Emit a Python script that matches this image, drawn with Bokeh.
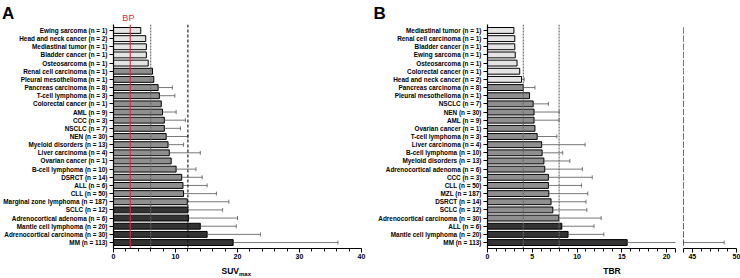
import math
from bokeh.plotting import figure
from bokeh.models import ColumnDataSource, FactorRange, Range1d, Span, Label, FixedTicker
from bokeh.layouts import row, column
from bokeh.embed import file_html
from bokeh.resources import INLINE

# ---------------- Data (listed top to bottom as in the chart) ----------------
cats_a = [
    "Ewing sarcoma (n = 1)", "Head and neck cancer (n = 2)", "Mediastinal tumor (n = 1)",
    "Bladder cancer (n = 1)", "Osteosarcoma (n = 1)", "Renal cell carcinoma (n = 1)",
    "Pleural mesothelioma (n = 1)", "Pancreas carcinoma (n = 8)", "T-cell lymphoma (n = 3)",
    "Colorectal cancer (n = 1)", "AML (n = 9)", "CCC (n = 3)", "NSCLC (n = 7)", "NEN (n = 30)",
    "Myeloid disorders (n = 13)", "Liver carcinoma (n = 4)", "Ovarian cancer (n = 1)",
    "B-cell lymphoma (n = 10)", "DSRCT (n = 14)", "ALL (n = 6)", "CLL (n = 50)",
    "Marginal zone lymphoma (n = 187)", "SCLC (n = 12)", "Adrenocortical adenoma (n = 6)",
    "Mantle cell lymphoma (n = 20)", "Adrenocortical carcinoma (n = 30)", "MM (n = 113)",
]
suv_mean = [4.4, 5.2, 5.3, 5.3, 5.6, 6.3, 6.5, 7.2, 7.4, 7.7, 7.9, 8.2, 8.2, 8.5,
            8.8, 9.0, 9.3, 10.1, 11.0, 11.2, 11.3, 11.9, 12.0, 12.1, 14.0, 15.1, 19.3]
suv_upper = [None, None, None, None, None, None, None, 9.5, 9.9, None, 10.1, 11.6, 10.8, 12.0,
             11.3, 14.0, None, 13.3, 14.3, 15.1, 16.6, 18.6, 17.6, 20.0, 19.8, 23.7, 36.2]
tier_a = ["light", "light", "light", "light", "light",
          "mid", "mid", "mid", "mid", "mid", "mid", "mid", "mid", "mid", "mid", "mid", "mid",
          "mid", "mid", "mid", "mid", "mid",
          "dark", "dark", "dark", "dark", "dark"]

cats_b = [
    "Mediastinal tumor (n = 1)", "Renal cell carcinoma (n = 1)", "Bladder cancer (n = 1)",
    "Ewing sarcoma (n = 1)", "Osteosarcoma (n = 1)", "Colorectal cancer (n = 1)",
    "Head and neck cancer (n = 2)", "Pancreas carcinoma (n = 8)", "Pleural mesothelioma (n = 1)",
    "NSCLC (n = 7)", "NEN (n = 30)", "AML (n = 9)", "Ovarian cancer (n = 1)",
    "T-cell lymphoma (n = 3)", "Liver carcinoma (n = 4)", "B-cell lymphoma (n = 10)",
    "Myeloid disorders (n = 13)", "Adrenocortical adenoma (n = 6)", "CCC (n = 3)",
    "CLL (n = 50)", "MZL (n = 187)", "DSRCT (n = 14)", "SCLC (n = 12)",
    "Adrenocortical carcinoma (n = 30)", "ALL (n = 6)", "Mantle cell lymphoma (n = 20)",
    "MM (n = 113)",
]
tbr_mean = [2.95, 3.05, 3.05, 3.1, 3.3, 3.6, 3.8, 4.0, 4.7, 5.1, 5.2, 5.2, 5.3, 5.55,
            6.05, 6.1, 6.3, 6.4, 6.8, 6.8, 6.85, 7.1, 7.3, 7.95, 8.3, 9.0, 15.6]
tbr_upper = [None, None, None, None, None, None, 4.1, 5.3, None, 6.8, 8.0, 8.0, None, 7.75,
             10.9, 8.4, 9.2, 10.6, 11.7, 10.5, 11.2, 11.0, 11.1, 12.7, 11.9, 13.0, 48.6]
tier_b = ["light", "light", "light", "light", "light", "light", "light",
          "mid", "mid", "mid", "mid", "mid", "mid", "mid", "mid", "mid", "mid", "mid",
          "mid", "mid", "mid", "mid", "mid", "mid",
          "dark", "dark", "dark"]

suv_ticks = [0, 10, 20, 30, 40]
tbr_ticks = [0, 5, 10, 15, 20]
tbr_ticks_hi = [45, 50]
BP = 2.7
suv_thresholds = [6, 12]
tbr_thresholds = [4, 8]

FILL = {"light": "#e4e4e4", "mid": "#8f8f8f", "dark": "#333333"}
FONT = "Liberation Sans"
RED = "#e3263f"

# ---------------- Layout constants (pixels) ----------------
TS = 24            # top strip height
BS = 16            # bottom strip height
HM = 278 - TS - BS # main figures height
TOP, BOTTOM = 0, 14
PAD = 0.23

WA, LA, RA = 370, 111, 9
WB, LB, RB = 308, 117, 3
WK, LK, RK = 62, 5, 4
sx_a = (WA - LA - RA) / 40.0
sx_b = (WB - LB - RB) / 21.0


def make_fig(width, lb, rb, xr, cats, show_y=True):
    p = figure(width=width, height=HM, output_backend="svg", toolbar_location=None,
               x_range=xr,
               y_range=FactorRange(factors=list(reversed(cats)), range_padding=PAD,
                                   range_padding_units="absolute"),
               y_axis_location="left" if show_y else None, min_border=0,
               min_border_left=lb, min_border_right=rb,
               min_border_top=TOP, min_border_bottom=BOTTOM)
    p.outline_line_color = None
    p.xgrid.visible = False
    p.ygrid.visible = False
    for ax in p.axis:
        ax.axis_line_color = "black"
        ax.axis_line_width = 1.2
        ax.major_tick_line_color = "black"
        ax.minor_tick_line_color = "black"
        ax.major_tick_in = 0
        ax.major_tick_out = 4
        ax.minor_tick_in = 0
        ax.minor_tick_out = 3
        ax.major_label_text_font = FONT
        ax.major_label_text_font_style = "bold"
        ax.major_label_text_color = "black"
    p.xaxis.major_label_text_font_size = "7px"
    p.xaxis.major_label_standoff = 1
    if show_y:
        p.yaxis.major_label_text_font_size = "6.4px"
        p.yaxis.major_label_standoff = 2
    return p


def make_strip(width, height, x_start, x_end):
    s = figure(width=width, height=height, output_backend="svg", toolbar_location=None,
               title=None,
               x_range=Range1d(x_start, x_end), y_range=Range1d(0, height),
               x_axis_location=None, y_axis_location=None, min_border=0,
               min_border_left=0, min_border_right=0, min_border_top=0, min_border_bottom=0)
    s.outline_line_color = None
    s.xgrid.visible = False
    s.ygrid.visible = False
    return s


def draw(p, cats, vals, uppers, tiers):
    src = ColumnDataSource(dict(cat=cats, val=vals, color=[FILL[t] for t in tiers]))
    p.hbar(y="cat", left=0, right="val", height=0.72, fill_color="color",
           line_color="black", line_width=1, source=src)
    ec = [c for c, u in zip(cats, uppers) if u is not None]
    e0 = [v for v, u in zip(vals, uppers) if u is not None]
    e1 = [u for u in uppers if u is not None]
    esrc = ColumnDataSource(dict(cat=ec, x0=e0, x1=e1))
    p.segment(x0="x0", y0="cat", x1="x1", y1="cat", line_color="#555555",
              line_width=0.8, source=esrc)
    p.scatter(x="x1", y="cat", marker="dash", angle=math.pi / 2, size=4,
              line_color="#555555", line_width=0.8, source=esrc)


def label(fig, x, y, text, size, bold=True, align="left", color="black"):
    fig.add_layout(Label(x=x, y=y, text=text, text_align=align, text_baseline="middle",
                         text_font=FONT, text_font_size=size,
                         text_font_style="bold" if bold else "normal", text_color=color))


# ---------------- Panel A ----------------
pa = make_fig(WA, LA, RA, Range1d(0, 40), cats_a)
draw(pa, cats_a, suv_mean, suv_upper, tier_a)
pa.xaxis.ticker = FixedTicker(ticks=suv_ticks,
                              minor_ticks=[v for v in range(0, 41, 2) if v % 10])
pa.add_layout(Span(location=BP, dimension="height", line_color=RED, line_width=1.1))
pa.add_layout(Span(location=suv_thresholds[0], dimension="height", line_color="#666666",
                   line_dash="2 1", line_width=1.1))
pa.add_layout(Span(location=suv_thresholds[1], dimension="height", line_color="#111111",
                   line_dash="3 2", line_width=1.1))

# ---------------- Panel B (main segment) ----------------
pb = make_fig(WB, LB, RB, Range1d(0, 21), cats_b)
draw(pb, cats_b, tbr_mean, tbr_upper, tier_b)
pb.xaxis.ticker = FixedTicker(ticks=tbr_ticks + [21],
                              minor_ticks=[v for v in range(0, 21) if v % 5])
pb.xaxis.major_label_overrides = {21: ""}
for t in tbr_thresholds:
    pb.add_layout(Span(location=t, dimension="height", line_color="#666666",
                       line_dash="2 1", line_width=1.1))

# ---------------- Panel B (broken-axis segment) ----------------
pk = make_fig(WK, LK, RK, Range1d(44, 50), cats_b, show_y=False)
draw(pk, cats_b, tbr_mean, tbr_upper, tier_b)
pk.xaxis.ticker = FixedTicker(ticks=[44] + tbr_ticks_hi, minor_ticks=[46, 47, 48, 49])
pk.xaxis.major_label_overrides = {44: ""}

# ---------------- Text strips (same x scales as the panels) ----------------
xa0, xa1 = -LA / sx_a, (WA - LA) / sx_a
xb0, xb1 = -LB / sx_b, (WB + WK - LB) / sx_b

top_a = make_strip(WA, TS, xa0, xa1)
label(top_a, xa0 + 1.5 / sx_a, 11.5, "A", "17px")
label(top_a, BP, 6.2, "BP", "9px", bold=False, align="center", color=RED)

top_b = make_strip(WB + WK, TS, xb0, xb1)
label(top_b, xb0 + 3 / sx_b, 11.5, "B", "17px")

bot_a = make_strip(WA, BS, xa0, xa1)
label(bot_a, 20 + 2.5 / sx_a, 7.5, "SUV", "8.5px", align="right")
label(bot_a, 20 + 2.5 / sx_a, 4.3, "max", "6px", align="left")

bot_b = make_strip(WB + WK, BS, xb0, xb1)
tbr_center = ((WB + WK - RK) - LB) / 2.0 / sx_b
label(bot_b, tbr_center, 7.5, "TBR", "8.5px", align="center")

layout = column(row(top_a, top_b), row(pa, pb, pk), row(bot_a, bot_b))
open("out.html", "w").write(file_html(layout, INLINE))
